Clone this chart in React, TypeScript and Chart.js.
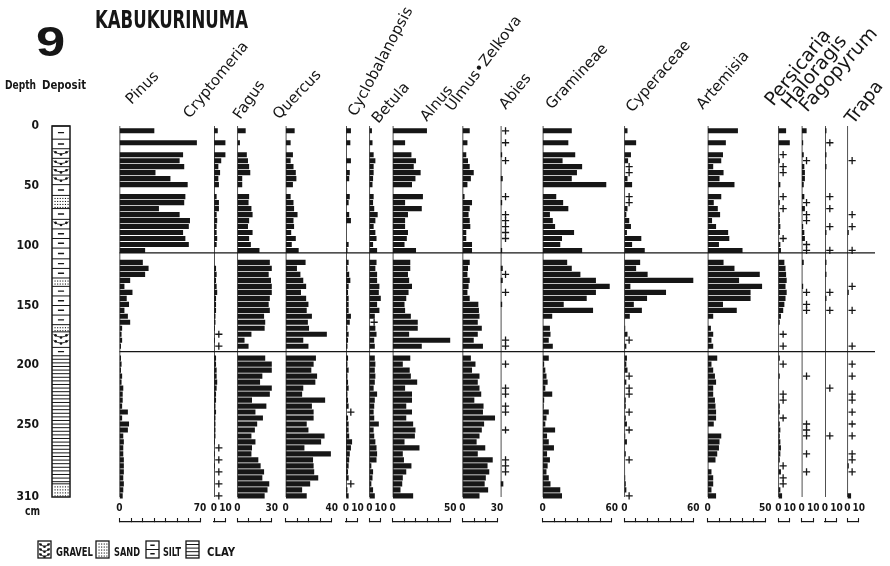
import { useEffect, useRef } from 'react';
import { Chart, registerables } from 'chart.js';

Chart.register(...registerables);

// Counted levels (cm below surface).
const DEPTHS = [
  4, 14, 24, 29, 34, 39, 44, 49, 59, 64, 69, 74, 79, 84, 89, 94, 99, 104,
  114, 119, 124, 129, 134, 139, 144, 149, 154, 159, 164, 169, 174, 179, 184,
  194, 199, 204, 209, 214, 219, 224, 229, 234, 239, 244, 249, 254, 259, 264, 269, 274, 279, 284, 289, 294, 299, 304, 309,
];

// Percentages per level; '+' = present below 1 %.
const PINUS = [30, 67, 55, 52, 56, 31, 44, 59, 57, 56, 34, 52, 61, 60, 55, 57, 60, 22, 20, 25, 22, 9, 4, 11, 6, 8, 4, 7, 9, 2, 1.5, 2, 1, 1, 1.5, 1, 2, 1.5, 3, 2.5, 2.5, 2, 7, 2, 8, 7, 3, 3.5, 3, 3, 3.5, 3.5, 3.5, 3, 3.5, 3, 2.5];
const CRYPTOMERIA = [3, 10, 10, 6, 3.5, 5, 3.5, 4, 2, 4, 4, 2, 2.5, 2, 2, 2.5, 2, 0, 0, 1.5, 2, 1.5, 2, 2.5, 1.5, 1.5, 1.5, 1, 1, 0.5, '+', 0.5, '+', 1.5, 1.5, 2, 2, 2.5, 2, 1.5, 1.5, 1, 1.5, 1, 1, 1, 1, 0.5, '+', 0.5, '+', 0.5, '+', 0, '+', 0, '+'];
const FAGUS = [7, 2, 8, 9, 10, 11, 4, 4, 10, 9.5, 12, 13, 10, 9, 13, 10, 11.5, 19, 28, 30, 27, 29, 30, 30, 28, 27, 28, 23, 24, 23.5, 12, 6, 9.5, 24, 32, 34, 21.5, 19.5, 34, 28, 12.5, 25, 15.5, 22, 17, 15, 12, 15.5, 12.5, 12, 18, 20, 23, 21.5, 27.5, 26, 23.5];
const QUERCUS = [7.5, 4, 6, 4, 6.5, 8.5, 9, 6, 4, 6.5, 7, 10, 6.5, 7, 4.5, 8.5, 5, 11, 17, 9.5, 12.5, 15, 17.5, 13, 17.5, 19.5, 18, 22.5, 19, 20, 35.5, 15, 19.5, 26, 24, 22, 27, 25.5, 15, 14, 34, 22.5, 24, 24, 18, 19.5, 33.5, 30.5, 16, 39, 23.5, 24, 24.5, 28, 21, 14, 18];
const CYCLOBALANOPSIS = [4, 3.5, 0, 4, 0, 3, 2.5, 0, 3, 2, 0, 2.5, 4, 0, 0, 0, 2, 1, 2, 1, 2.5, 3.5, 2, 1.5, 2, 2, 2, 4, 3, 1, 2, 1.5, 1, 1.5, 1, 2, 1, 1.5, 2, 1, 1.5, 2, '+', 1.5, 2, 2, 2.5, 5, 4, 3, 2.5, 2, 1.5, 2, '+', 1, 2];
const BETULA = [2, 2.5, 3.5, 5, 3.5, 3.5, 3, 2.5, 3.5, 3, 4, 7, 5, 3.5, 5, 6, 3, 6.5, 6, 5, 6.5, 6.5, 8.5, 8, 11.5, 6.5, 8.5, 4.5, '+', 5, 6, 4, 4.5, 4.5, 5, 4.5, 5, 4.5, 3.5, 6.5, 4.5, 4, 3.5, 4, 8, 3.5, 4, 5, 6, 6.5, 6, 1.5, 3, 2.5, 1.5, 3, 4.5];
const ALNUS = [29.5, 10.5, 16, 20, 18, 24, 19.5, 16.5, 26, 10.5, 25, 13, 10.5, 10.5, 13, 12, 10, 20, 15, 15, 13, 14, 16.5, 13.5, 11.5, 10, 10.5, 15.5, 21.5, 21.5, 14, 57, 25, 15, 8.5, 14.5, 15.5, 21, 10.5, 16.5, 16.5, 11.5, 16.5, 11.5, 17.5, 19.5, 19, 10, 23, 8.5, 9.5, 16, 11.5, 8.5, 8, 6.5, 17.5];
const ULMUS_ZELKOVA = [6, 4, 3, 4.5, 6, 9.5, 7, 4, 1.5, 8, 6, 5, 6, 6.5, 3, 3, 8, 8, 6, 4.5, 4, 6, 5, 4, 6, 13.5, 14, 14.5, 13, 16.5, 13, 9.5, 17.5, 7, 11, 8, 14.5, 13, 14.5, 16, 10, 18, 17.5, 28, 18.5, 16.5, 14.5, 12, 19.5, 13, 26, 21.5, 23, 20, 19, 22, 14.5];
const ABIES = ['+', '+', 1, '+', 0, 0, 1.5, 0, '+', 1, 0, '+', '+', '+', '+', '+', 0, 1, 0, 1.5, '+', 1.5, 0, '+', 0, 1, 0, 0, 0, 0, 0, '+', '+', 0, '+', 0, 0, 0, '+', '+', 0, '+', '+', 0, 0, '+', 0, 0, 0, 0, '+', '+', '+', 0, 2, 0, 0];
const GRAMINEAE = [25, 22, 28, 17, 34, 29.5, 25, 55, 11.5, 17.5, 22, 6, 8.5, 10.5, 27, 16.5, 15, 34, 21, 25, 32.5, 46, 58, 46, 38, 18, 43.5, 8, 0, 6, 6.5, 5, 8.5, 5, 1, 2, 3, 4, 2, 8, 1, 0.5, 5, 3, 2, 10.5, 3.5, 5, 9.5, 3.5, 6, 4, 3, 5, 6.5, 15, 16.5];
const CYPERACEAE = [2.5, 10, 5.5, 3, '+', '+', 2.5, 6.5, '+', '+', 2.5, 1.5, 4, 5.5, 2, 14.5, 6.5, 17.5, 13.5, 10, 20, 66, 5, 36, 19.5, 8, 15, 4.5, 0, 0.5, 2.5, '+', 1.5, 2, 1.5, 2.5, '+', 1.5, '+', '+', 1, 1, '+', 1, 2, '+', 0.5, 2, 0, 1, '+', 0, 0, 0.5, 1, 1.5, '+'];
const ARTEMISIA = [26, 15.5, 13, 11.5, 4.5, 13.5, 10, 23, 11.5, 5, 8.5, 10.5, 3.5, 7, 17.5, 18.5, 9.5, 30, 13.5, 23, 45, 27, 47, 37, 37, 13, 25, 4.5, 0, 2.5, 4.5, 3, 4.5, 8, 3, 4.5, 6, 7, 4.5, 4.5, 6, 6.5, 7, 7, 5, 0, 11.5, 10, 9.5, 8, 6.5, 0, 3, 4.5, 4.5, 3, 7];
const PERSICARIA = [6.5, 13, '+', 1, '+', '+', 0, 1.5, '+', 1, '+', 1, 1, 1.5, 1, '+', 1.5, 2, 5, 6, 6.5, 7, 6, 7, 6, 5, 4, 2, 1, 0, '+', 0, '+', 1, '+', 0, 1, 0, 0, '+', '+', 1, 1, '+', 1, 1.5, 1, 1.5, 2, 1.5, 1, '+', 2, '+', '+', 1.5, 3];
const HALORAGIS = [4, 1, 1.5, '+', 2, 2.5, 2.5, 1.5, 2, '+', 2.5, '+', '+', 1, 2, 2.5, '+', '+', 1.5, 0, 0, 0, 1, '+', 0, '+', '+', 0, 0, 0, 0, 0, 0, 0, 0, 0, '+', 0, 0, 0, 0, 0, 0, 0, '+', '+', '+', 0, 0, '+', 0, 0, '+', 0, 0, 0, 0];
const FAGOPYRUM = [1, '+', 1, 0, 1, 0, 0, 0, '+', 0, '+', 0, 0, '+', 1, 0, 0, '+', 1, 0, 1, 0, 0, '+', 1, 0, '+', 0, 0, 0, 0, 0, 0, 0, 0, 0, 0, 0, '+', 0, 0, 0, 0, 0, 0, 0, '+', 0, 0, 0, 0, 0, 0, 0, 0, 0, 0];
const TRAPA = [0, 0, 0, '+', 0, 0, 0, 0, 0, 0, 0, '+', 0, '+', 1, 0, 0, '+', 0, 0, 0, 0, '+', 1, 0, 0, '+', 0, 0, 0, 0, 0, '+', 0, '+', 0, '+', 0, 0, '+', '+', 0, '+', 0, '+', 0, '+', 0, 0, '+', '+', 1, '+', 0, 0, 0, 3];

const TAXA = ['Pinus', 'Cryptomeria', 'Fagus', 'Quercus', 'Cyclobalanopsis', 'Betula', 'Alnus', 'Ulmus•Zelkova', 'Abies', 'Gramineae', 'Cyperaceae', 'Artemisia', 'Persicaria', 'Haloragis', 'Fagopyrum', 'Trapa'];
const SERIES = [PINUS, CRYPTOMERIA, FAGUS, QUERCUS, CYCLOBALANOPSIS, BETULA, ALNUS, ULMUS_ZELKOVA, ABIES, GRAMINEAE, CYPERACEAE, ARTEMISIA, PERSICARIA, HALORAGIS, FAGOPYRUM, TRAPA];
const SCALE_MAX = [70, 10, 30, 40, 10, 10, 50, 30, 10, 60, 60, 50, 10, 10, 10, 10];
const SCALE_SHOWN = [true, true, true, true, true, true, true, true, false, true, true, true, true, true, true, true];

const DEPTH_TICKS = [0, 50, 100, 150, 200, 250, 310];
const SECTION_BASE = 310;
const ZONE_BOUNDARIES = [106, 188.5];

// Sediment column: [top cm, bottom cm, kind]
const LITHO_LAYERS: [number, number, string][] = [
  [0, 11, 'silt'], [11, 19, 'silt'], [19, 27, 'gravel'], [27, 34, 'gravel'], [34, 41, 'gravel'], [41, 49, 'gravel'],
  [49, 58, 'silt'], [58, 69, 'sand'], [69, 78, 'silt'], [78, 86, 'gravel'], [86, 94, 'silt'], [94, 102, 'silt'],
  [102, 111, 'silt'], [111, 119, 'silt'], [119, 127, 'silt'], [127, 134, 'sand'], [134, 142, 'silt'], [142, 150, 'silt'],
  [150, 158, 'silt'], [158, 166, 'silt'], [166, 172, 'sand'], [172, 185, 'gravel'], [185, 192, 'silt'],
  [192, 299, 'clay'], [299, 310, 'sand'],
];
const LEGEND_KINDS = ['gravel', 'sand', 'silt', 'clay'];
const LEGEND_TEXT = ['GRAVEL', 'SAND', 'SILT', 'CLAY'];

// ---- layout & style ----
const W = 890;
const H = 566;
const PLOT = { left: 52, right: 876, top: 126, bottom: 522 };
const PX_PER_CM = 371 / 310;
const PX_PER_PCT = 1.15;
const LITHO_WIDTH = 18;
const PANEL_GAPS = [49.5, 14, 11.8, 13.9, 14.3, 11.8, 11.9, 12.3, 3.7, 30.5, 12.6, 14.4, 13.1, 11.9, 11.8, 10.8];
const PLUS_OFFSET = 4.2;
const INK = '#161616';
const CONDENSED = '"Liberation Sans Narrow", "DejaVu Sans Condensed", "Liberation Sans", Arial, sans-serif';
const TAXON_FONT = '"DejaVu Sans", "Open Sans", sans-serif';
const TAXON_LABELS = [
  { dx: 12, dy: -21, angle: 45, size: 15 },
  { dx: -24, dy: -7, angle: 51, size: 15 },
  { dx: 3, dy: -6, angle: 55, size: 15 },
  { dx: -7, dy: -6, angle: 46, size: 15 },
  { dx: 10, dy: -9, angle: 62, size: 15 },
  { dx: 9, dy: -2, angle: 49, size: 15 },
  { dx: 34, dy: -4, angle: 50, size: 15 },
  { dx: -10, dy: -14, angle: 53, size: 15 },
  { dx: 5, dy: -16, angle: 51, size: 15 },
  { dx: 9, dy: -16, angle: 47, size: 15 },
  { dx: 8, dy: -13, angle: 49, size: 15 },
  { dx: -5, dy: -16, angle: 49, size: 15 },
  { dx: -5, dy: -19, angle: 51, size: 19 },
  { dx: -12, dy: -16, angle: 50, size: 19 },
  { dx: -18, dy: -13, angle: 48, size: 19 },
  { dx: 6, dy: -1, angle: 52, size: 18 },
];

function seg(ctx: CanvasRenderingContext2D, x1: number, y1: number, x2: number, y2: number) {
  ctx.beginPath();
  ctx.moveTo(x1, y1);
  ctx.lineTo(x2, y2);
  ctx.stroke();
}

function dot(ctx: CanvasRenderingContext2D, x: number, y: number, r: number) {
  ctx.beginPath();
  ctx.arc(x, y, r, 0, Math.PI * 2);
  ctx.fill();
}

function drawLithology(ctx: CanvasRenderingContext2D, kind: string, x0: number, x1: number, t: number, b: number, step = 6) {
  const w = x1 - x0;
  ctx.save();
  ctx.beginPath();
  ctx.rect(x0, t, w, b - t);
  ctx.clip();
  ctx.fillStyle = INK;
  ctx.strokeStyle = INK;
  if (kind === 'silt') {
    ctx.lineWidth = 1.4;
    const cy = (t + b) / 2;
    seg(ctx, x0 + w * 0.33, cy, x0 + w * 0.67, cy);
  } else if (kind === 'clay') {
    ctx.lineWidth = 1;
    for (let yy = t + 3.5; yy < b - 0.5; yy += 3.6) seg(ctx, x0, yy, x1, yy);
  } else if (kind === 'sand') {
    for (let yy = t + 2.5; yy < b - 1; yy += 3) {
      for (let xx = x0 + 2.5; xx < x1 - 1.5; xx += 2.6) ctx.fillRect(xx, yy, 1.1, 1.1);
    }
  } else if (kind === 'gravel') {
    ctx.lineWidth = 0.9;
    for (let cy = t + 4.5; cy < b - 1; cy += step) {
      dot(ctx, x0 + w * 0.2, cy - 1, 1.3);
      dot(ctx, x0 + w * 0.5, cy + 1.2, 1.3);
      dot(ctx, x0 + w * 0.8, cy - 1, 1.3);
      ctx.beginPath();
      ctx.moveTo(x0 + w * 0.08, cy - 2);
      ctx.quadraticCurveTo(x0 + w * 0.5, cy + 3.5, x0 + w * 0.92, cy - 2);
      ctx.stroke();
    }
  }
  ctx.restore();
}

function fitText(ctx: CanvasRenderingContext2D, text: string, x: number, y: number, width: number, font: string) {
  ctx.save();
  ctx.font = font;
  ctx.textAlign = 'left';
  ctx.textBaseline = 'alphabetic';
  const measured = ctx.measureText(text).width || 1;
  ctx.translate(x, y);
  ctx.scale(width / measured, 1);
  ctx.fillText(text, 0, 0);
  ctx.restore();
}

const decorPlugin = {
  id: 'pollenDecor',
  afterDraw(chart: any) {
    const { ctx, scales, chartArea } = chart;
    const y = scales.y;
    ctx.save();
    ctx.fillStyle = INK;
    ctx.strokeStyle = INK;

    // sediment column
    const lx0 = scales.litho.left;
    const lx1 = scales.litho.right;
    LITHO_LAYERS.forEach(([from, to, kind]) => {
      const t = y.getPixelForValue(from);
      const b = y.getPixelForValue(to);
      drawLithology(ctx, kind, lx0, lx1, t, b);
      ctx.lineWidth = 1;
      seg(ctx, lx0, t, lx1, t);
    });
    const colTop = y.getPixelForValue(0);
    const colBot = y.getPixelForValue(SECTION_BASE);
    ctx.lineWidth = 1.5;
    ctx.strokeRect(lx0, colTop, lx1 - lx0, colBot - colTop);

    // zone boundaries
    const zx = scales.p0.getPixelForValue(0);
    ctx.lineWidth = 1.2;
    ZONE_BOUNDARIES.forEach((d) => {
      const py = y.getPixelForValue(d);
      seg(ctx, zx, py, chartArea.right - 1, py);
    });

    // taxon names
    TAXA.forEach((name, i) => {
      const st = TAXON_LABELS[i];
      const x0 = scales[`p${i}`].getPixelForValue(0) + st.dx;
      ctx.save();
      ctx.translate(x0, chartArea.top + st.dy);
      ctx.rotate((-st.angle * Math.PI) / 180);
      ctx.font = `${st.size}px ${TAXON_FONT}`;
      ctx.textAlign = 'left';
      ctx.textBaseline = 'alphabetic';
      ctx.fillText(name, 0, 0);
      ctx.restore();
    });

    // headings
    ctx.save();
    ctx.font = 'bold 42px "Liberation Sans", Arial, sans-serif';
    ctx.textBaseline = 'alphabetic';
    ctx.translate(36, 56);
    ctx.scale(1.25, 1);
    ctx.fillText('9', 0, 0);
    ctx.restore();
    fitText(ctx, 'KABUKURINUMA', 95, 28, 153, `bold 25px ${CONDENSED}`);
    fitText(ctx, 'Depth', 5, 89, 31, `bold 12px ${CONDENSED}`);
    fitText(ctx, 'Deposit', 42, 89, 44, `bold 12px ${CONDENSED}`);
    fitText(ctx, 'cm', 25, colBot + 18, 15, `bold 12px ${CONDENSED}`);

    // sediment legend
    const boxX = [38, 96, 146, 186];
    const textX = [56, 114, 163, 207];
    const textW = [37, 26, 18, 28];
    const bt = 541;
    const bb = 558;
    LEGEND_KINDS.forEach((kind, i) => {
      const x0 = boxX[i];
      const x1 = x0 + 13;
      if (kind === 'silt') {
        const mid = (bt + bb) / 2;
        drawLithology(ctx, 'silt', x0, x1, bt, mid);
        drawLithology(ctx, 'silt', x0, x1, mid, bb);
        ctx.lineWidth = 1;
        seg(ctx, x0, mid, x1, mid);
      } else {
        drawLithology(ctx, kind, x0, x1, bt, bb, 5);
      }
      ctx.lineWidth = 1.3;
      ctx.strokeRect(x0, bt, x1 - x0, bb - bt);
      fitText(ctx, LEGEND_TEXT[i], textX[i], 556, textW[i], `bold 12px ${CONDENSED}`);
    });
    ctx.restore();
  },
};

function buildScales() {
  const depthMax = (PLOT.bottom - PLOT.top) / PX_PER_CM;
  const scales: Record<string, any> = {
    y: {
      type: 'linear',
      position: 'left',
      reverse: true,
      min: 0,
      max: depthMax,
      offset: false,
      afterFit: (s: any) => {
        s.width = PLOT.left;
      },
      afterBuildTicks: (s: any) => {
        s.ticks = DEPTH_TICKS.map((v) => ({ value: v }));
      },
      grid: { display: false, drawTicks: false, offset: false },
      border: { display: false },
      ticks: { padding: 13, color: INK, font: { family: CONDENSED, size: 12, weight: 'bold' } },
    },
  };
  const stacked = (weight: number) => ({
    type: 'linear',
    axis: 'x',
    position: 'bottom',
    stack: 'panels',
    stackWeight: weight,
    offset: false,
    afterFit: (s: any) => {
      s.height = 0;
      s.paddingLeft = 0;
      s.paddingRight = 0;
    },
  });
  scales.litho = { ...stacked(LITHO_WIDTH), min: 0, max: 1, display: false };
  let used = LITHO_WIDTH;
  TAXA.forEach((_, i) => {
    const max = SCALE_MAX[i];
    scales[`gap${i}`] = { ...stacked(PANEL_GAPS[i]), min: 0, max: 1, display: false };
    scales[`p${i}`] = {
      ...stacked(max * PX_PER_PCT),
      min: 0,
      max,
      display: SCALE_SHOWN[i],
      grid: {
        display: true,
        drawOnChartArea: false,
        drawTicks: true,
        tickLength: -4,
        color: INK,
        tickColor: INK,
        tickWidth: 1.1,
      },
      border: { display: true, color: INK, width: 1.2 },
      ticks: {
        stepSize: 10,
        autoSkip: false,
        maxRotation: 0,
        minRotation: 0,
        mirror: true,
        padding: 8,
        color: INK,
        font: { family: CONDENSED, size: 10, weight: 'bold' },
        callback: (v: number) => (v === 0 || v === max ? String(v) : ''),
      },
    };
    used += PANEL_GAPS[i] + max * PX_PER_PCT;
  });
  scales.tail = { ...stacked(PLOT.right - PLOT.left - used), min: 0, max: 1, display: false };
  return scales;
}

function buildDatasets() {
  const sets: any[] = [];
  SERIES.forEach((vals: any[], i) => {
    const xAxisID = `p${i}`;
    sets.push({
      type: 'bar',
      label: TAXA[i],
      indexAxis: 'y',
      xAxisID,
      yAxisID: 'y',
      data: DEPTHS.map((d, k) => ({ x: vals[k], y: d })).filter((p) => typeof p.x === 'number' && p.x > 0),
      backgroundColor: INK,
      borderWidth: 0,
      barThickness: 4.5,
      grouped: false,
    });
    const plus = DEPTHS.filter((_, k) => vals[k] === '+').map((d) => ({ x: PLUS_OFFSET, y: d }));
    if (plus.length) {
      sets.push({
        type: 'scatter',
        label: `${TAXA[i]} +`,
        indexAxis: 'y',
        xAxisID,
        yAxisID: 'y',
        data: plus,
        pointStyle: 'cross',
        pointRadius: 3.6,
        pointBorderWidth: 1.3,
        pointBorderColor: INK,
        pointBackgroundColor: INK,
        showLine: false,
      });
    }
    sets.push({
      type: 'line',
      label: `${TAXA[i]} axis`,
      indexAxis: 'y',
      xAxisID,
      yAxisID: 'y',
      data: [
        { x: 0, y: 0 },
        { x: 0, y: SECTION_BASE },
      ],
      borderColor: INK,
      borderWidth: 1.5,
      pointRadius: 0,
      fill: false,
    });
  });
  return sets;
}

export default function App() {
  const ref = useRef<HTMLCanvasElement | null>(null);
  useEffect(() => {
    if (!ref.current) return;
    const chart = new Chart(ref.current, {
      type: 'bar',
      data: { datasets: buildDatasets() },
      options: {
        animation: false,
        responsive: false,
        devicePixelRatio: 1,
        indexAxis: 'y',
        events: [],
        layout: { padding: { top: PLOT.top, bottom: H - PLOT.bottom, left: 0, right: W - PLOT.right } },
        plugins: { legend: { display: false }, title: { display: false }, tooltip: { enabled: false } },
        scales: buildScales(),
      },
      plugins: [decorPlugin],
    } as any);
    return () => chart.destroy();
  }, []);
  return (
    <div style={{ position: 'absolute', left: 0, top: 0, width: W, height: H, background: '#fff' }}>
      <canvas ref={ref} width={W} height={H} style={{ display: 'block', width: W, height: H }} />
    </div>
  );
}
